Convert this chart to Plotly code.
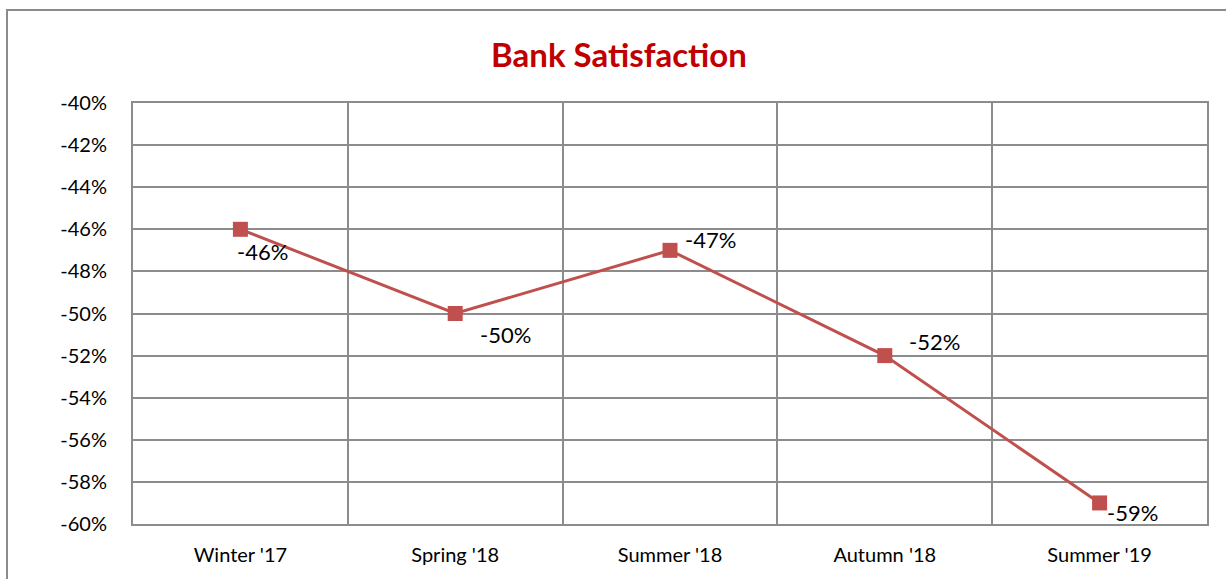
import plotly.graph_objects as go

categories = ["Winter '17", "Spring '18", "Summer '18", "Autumn '18", "Summer '19"]
values = [-0.46, -0.50, -0.47, -0.52, -0.59]
value_labels = ["-46%", "-50%", "-47%", "-52%", "-59%"]
y_ticks = [-0.40, -0.42, -0.44, -0.46, -0.48, -0.50, -0.52, -0.54, -0.56, -0.58, -0.60]
y_tick_labels = ["-40%", "-42%", "-44%", "-46%", "-48%", "-50%", "-52%", "-54%", "-56%", "-58%", "-60%"]

# label offsets (pixels) per point
label_shift = [(22, -22), (50, -21), (40, 11), (50, 14), (33, -10)]

FONT = "Lato"
LINE = "#C0504D"
GRID = "#8C8C8C"

xs = list(range(len(categories)))

fig = go.Figure()
fig.add_trace(go.Scatter(
    x=xs, y=values, mode="lines+markers",
    line=dict(color=LINE, width=3),
    marker=dict(symbol="square", size=15, color=LINE),
    hoverinfo="skip", showlegend=False,
))
# invisible trace for the gridline axis
fig.add_trace(go.Scatter(x=[-0.5, len(categories) - 0.5], y=[values[0]] * 2, xaxis="x2",
                         mode="markers", marker=dict(opacity=0), showlegend=False, hoverinfo="skip"))

for x, v, t, (dx, dy) in zip(xs, values, value_labels, label_shift):
    fig.add_annotation(x=x, y=v, text=t, showarrow=False, xshift=dx, yshift=dy,
                       font=dict(family=FONT, size=22, color="#000000"))

fig.update_layout(
    width=1226, height=579,
    margin=dict(l=133, r=19, t=103, b=55),
    paper_bgcolor="white", plot_bgcolor="white",
    title=dict(text="<b>Bank Satisfaction</b>", x=619 / 1226, xanchor="center",
               y=1 - 55 / 579, yanchor="middle",
               font=dict(family=FONT, size=33, color="#C00000")),
    xaxis=dict(range=[-0.5, len(categories) - 0.5], tickvals=xs, ticktext=categories,
               showgrid=False, zeroline=False, showline=True, mirror=True,
               linecolor=GRID, linewidth=2,
               ticks="outside", ticklen=12, tickcolor="rgba(0,0,0,0)",
               tickfont=dict(family=FONT, size=20, color="#000000")),
    xaxis2=dict(range=[-0.5, len(categories) - 0.5], overlaying="x",
                tickvals=[i - 0.5 for i in range(len(categories) + 1)],
                showticklabels=False, showgrid=True, gridcolor=GRID, gridwidth=2,
                zeroline=False, showline=False),
    yaxis=dict(range=[-0.60, -0.40], tickvals=y_ticks, ticktext=y_tick_labels,
               showgrid=True, gridcolor=GRID, gridwidth=2, zeroline=False,
               showline=True, mirror=True, linecolor=GRID, linewidth=2,
               ticks="outside", ticklen=20, tickcolor="rgba(0,0,0,0)",
               tickfont=dict(family=FONT, size=20, color="#000000")),
)

# outer chart border
fig.add_shape(type="rect", xref="paper", yref="paper",
              x0=(7 - 133) / 1074, x1=(1240 - 133) / 1074,
              y0=(524 - 590) / 421, y1=(524 - 10) / 421,
              line=dict(color="#8C8C8C", width=2), layer="below")

fig.write_html("out.html", config={"displayModeBar": False},
               post_script="document.body.style.margin='0';")
